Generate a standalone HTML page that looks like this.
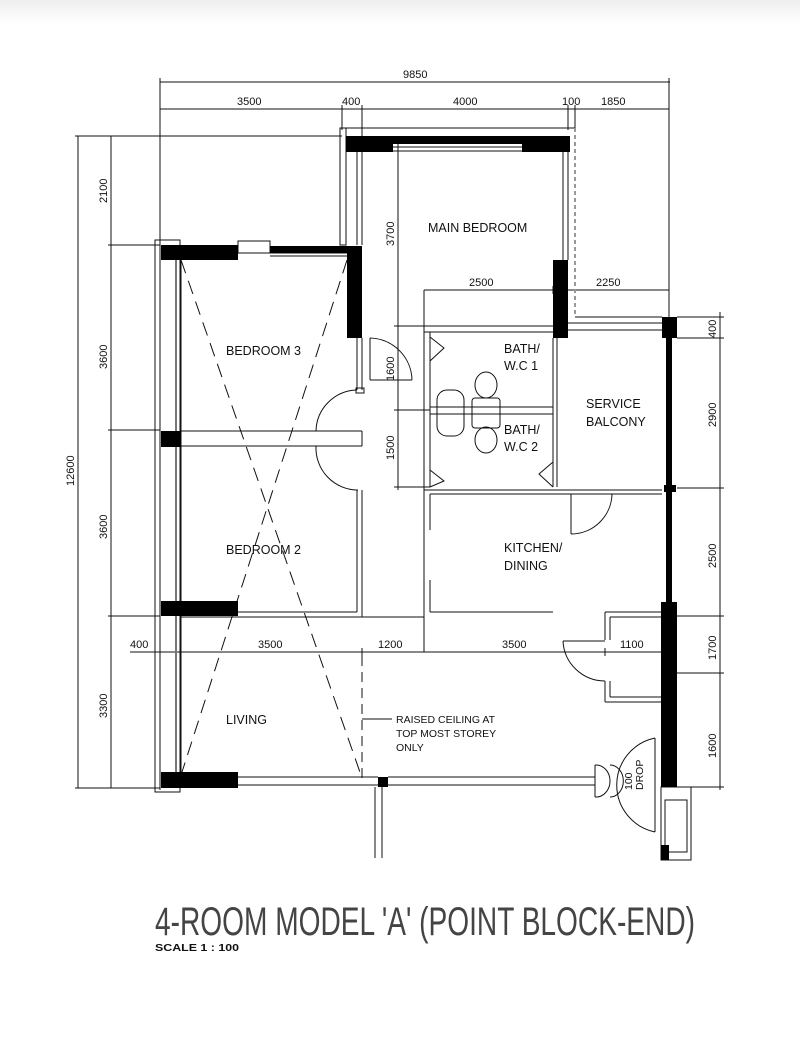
<!DOCTYPE html>
<html><head><meta charset="utf-8"><style>
html,body{margin:0;padding:0;background:#fff;}
svg{display:block;}
text{font-family:"Liberation Sans",sans-serif;fill:#111;}
</style></head><body>
<svg width="800" height="1053" viewBox="0 0 800 1053" xmlns="http://www.w3.org/2000/svg">
<defs><linearGradient id="g" x1="0" y1="0" x2="0" y2="1"><stop offset="0" stop-color="#eee"/><stop offset="1" stop-color="#fff"/></linearGradient></defs>
<rect width="800" height="1053" fill="#fff"/>
<rect width="800" height="24" fill="url(#g)"/>
<g stroke="#111" stroke-width="1" fill="none">
<line x1="160" y1="82" x2="670" y2="82"/>
<line x1="160" y1="109" x2="669" y2="109"/>
<line x1="160" y1="78" x2="160" y2="245"/>
<line x1="669" y1="78" x2="669" y2="317"/>
<line x1="342" y1="105" x2="342" y2="130"/>
<line x1="362" y1="105" x2="362" y2="140"/>
<line x1="568" y1="105" x2="568" y2="130"/>
<line x1="575" y1="105" x2="575" y2="130"/>
<line x1="78" y1="136" x2="78" y2="788"/>
<line x1="111" y1="136" x2="111" y2="788"/>
<line x1="75" y1="136" x2="342" y2="136"/>
<line x1="108" y1="245" x2="160" y2="245"/>
<line x1="108" y1="430" x2="160" y2="430"/>
<line x1="108" y1="616" x2="160" y2="616"/>
<line x1="75" y1="788" x2="160" y2="788"/>
<line x1="130" y1="652" x2="670" y2="652"/>
<line x1="424" y1="290" x2="669" y2="290"/>
<line x1="424" y1="290" x2="424" y2="652"/>
<line x1="553" y1="286" x2="553" y2="294"/>
<line x1="398" y1="142" x2="398" y2="490"/>
<line x1="394" y1="326" x2="430" y2="326"/>
<line x1="394" y1="410" x2="430" y2="410"/>
<line x1="394" y1="487" x2="430" y2="487"/>
<line x1="605" y1="648" x2="605" y2="656"/>
<line x1="362" y1="648" x2="362" y2="656"/>
<line x1="720" y1="312" x2="720" y2="790"/>
<line x1="677" y1="317" x2="724" y2="317"/>
<line x1="677" y1="338" x2="724" y2="338"/>
<line x1="677" y1="488" x2="724" y2="488"/>
<line x1="677" y1="616" x2="724" y2="616"/>
<line x1="677" y1="673" x2="724" y2="673"/>
<line x1="677" y1="787" x2="724" y2="787"/>
<rect x="340" y="128" width="6" height="117"/>
<line x1="340" y1="128" x2="575" y2="128"/>
<line x1="357" y1="152" x2="357" y2="245"/>
<line x1="362" y1="152" x2="362" y2="245"/>
<line x1="393" y1="147" x2="522" y2="147"/>
<line x1="393" y1="151" x2="522" y2="151"/>
<line x1="563" y1="152" x2="563" y2="260"/>
<line x1="568" y1="152" x2="568" y2="260"/>
<line x1="575" y1="128" x2="575" y2="317" stroke="#999" stroke-dasharray="4,3" stroke-width="2"/>
<line x1="575" y1="317" x2="662" y2="317"/>
<line x1="568" y1="323" x2="662" y2="323"/>
<line x1="568" y1="330" x2="662" y2="330"/>
<rect x="155" y="240" width="25" height="552"/>
<line x1="160" y1="243" x2="160" y2="790"/>
<line x1="176" y1="260" x2="176" y2="772" stroke="#777" stroke-width="2"/>
<line x1="181" y1="260" x2="181" y2="772"/>
<rect x="238" y="241" width="32" height="12"/>
<line x1="238" y1="253" x2="347" y2="253"/>
<line x1="270" y1="256" x2="347" y2="256"/>
<line x1="181" y1="431" x2="362" y2="431"/>
<line x1="181" y1="446" x2="362" y2="446"/>
<line x1="362" y1="431" x2="362" y2="446"/>
<line x1="357" y1="338" x2="357" y2="390"/>
<line x1="362" y1="338" x2="362" y2="390"/>
<rect x="356" y="388" width="8" height="5"/>
<path d="M357,390 A42,42 0 0 0 316,431"/>
<path d="M316,446 A42,42 0 0 0 358,490"/>
<line x1="357" y1="490" x2="357" y2="612"/>
<line x1="362" y1="490" x2="362" y2="617"/>
<path d="M370,338 A43,43 0 0 1 412,380"/>
<line x1="370" y1="338" x2="370" y2="380"/>
<line x1="370" y1="380" x2="412" y2="380"/>
<line x1="238" y1="612" x2="357" y2="612"/>
<line x1="181" y1="617" x2="424" y2="617"/>
<line x1="238" y1="777" x2="378" y2="777"/>
<line x1="238" y1="785" x2="378" y2="785"/>
<line x1="388" y1="777" x2="595" y2="777"/>
<line x1="388" y1="785" x2="595" y2="785"/>
<line x1="375" y1="787" x2="375" y2="858"/>
<line x1="382" y1="787" x2="382" y2="858"/>
<line x1="362" y1="656" x2="362" y2="778" stroke-dasharray="10,6"/>
<line x1="362" y1="719" x2="392" y2="719"/>
<line x1="181" y1="260" x2="362" y2="778" stroke-dasharray="14,8"/>
<line x1="347" y1="260" x2="182" y2="772" stroke-dasharray="14,8"/>
<line x1="424" y1="326" x2="553" y2="326"/>
<line x1="424" y1="332" x2="553" y2="332"/>
<line x1="424" y1="332" x2="424" y2="490"/>
<line x1="430" y1="332" x2="430" y2="487"/>
<line x1="430" y1="407" x2="553" y2="407"/>
<line x1="430" y1="414" x2="553" y2="414"/>
<line x1="553" y1="338" x2="553" y2="487"/>
<line x1="557" y1="338" x2="557" y2="487"/>
<path d="M430,337 L444,348 L430,361"/>
<path d="M430,470 L444,481 L430,487"/>
<path d="M553,462 L539,474 L553,487"/>
<ellipse cx="486" cy="385" rx="11" ry="13"/>
<ellipse cx="486" cy="440" rx="11" ry="13"/>
<rect x="472" y="398" width="28" height="30" rx="3"/>
<rect x="437" y="390" width="27" height="46" rx="10"/>
<line x1="424" y1="490" x2="662" y2="490"/>
<line x1="430" y1="494" x2="662" y2="494"/>
<line x1="424" y1="494" x2="424" y2="617"/>
<line x1="430" y1="494" x2="430" y2="530"/>
<line x1="430" y1="580" x2="430" y2="612"/>
<line x1="430" y1="612" x2="553" y2="612"/>
<line x1="571" y1="494" x2="571" y2="534"/>
<path d="M612,494 A41,41 0 0 1 571,534"/>
<line x1="605" y1="612" x2="662" y2="612"/>
<line x1="605" y1="612" x2="605" y2="640"/>
<line x1="610" y1="617" x2="662" y2="617"/>
<line x1="610" y1="617" x2="610" y2="640"/>
<line x1="563" y1="641" x2="605" y2="641"/>
<path d="M563,641 A42,42 0 0 0 605,681"/>
<line x1="605" y1="681" x2="605" y2="702"/>
<line x1="610" y1="681" x2="610" y2="697"/>
<line x1="610" y1="697" x2="662" y2="697"/>
<line x1="605" y1="702" x2="662" y2="702"/>
<path d="M655,738 A48,48 0 0 0 655,832"/>
<line x1="655" y1="738" x2="655" y2="832"/>
<path d="M610,765 A10,12 0 0 1 610,797 M595,765 A14,16 0 0 1 610,781 A14,16 0 0 1 595,797"/>
<line x1="595" y1="765" x2="595" y2="797"/>
<rect x="661" y="787" width="30" height="73"/>
<rect x="665" y="800" width="22" height="52"/>
</g>
<g fill="#000">
<rect x="346" y="136" width="224" height="8"/>
<rect x="346" y="136" width="47" height="16"/>
<rect x="522" y="136" width="48" height="16"/>
<rect x="553" y="260" width="15" height="78"/>
<rect x="161" y="245" width="77" height="15"/>
<rect x="270" y="246" width="92" height="7"/>
<rect x="347" y="246" width="15" height="92"/>
<rect x="161" y="431" width="20" height="16"/>
<rect x="161" y="601" width="77" height="15"/>
<rect x="161" y="772" width="77" height="16"/>
<rect x="378" y="777" width="10" height="10"/>
<rect x="662" y="317" width="15" height="21"/>
<rect x="666" y="338" width="6" height="265"/>
<rect x="661" y="602" width="16" height="185"/>
<rect x="664" y="485" width="12" height="7"/>
<rect x="661" y="845" width="8" height="15"/>
</g>
<g font-size="11">
<text x="403" y="78">9850</text>
<text x="237" y="105">3500</text>
<text x="342" y="105">400</text>
<text x="453" y="105">4000</text>
<text x="562" y="105">100</text>
<text x="601" y="105">1850</text>
<text x="469" y="286">2500</text>
<text x="596" y="286">2250</text>
<text x="130" y="648">400</text>
<text x="258" y="648">3500</text>
<text x="378" y="648">1200</text>
<text x="502" y="648">3500</text>
<text x="620" y="648">1100</text>
<text transform="translate(74,486) rotate(-90)">12600</text>
<text transform="translate(107,203) rotate(-90)">2100</text>
<text transform="translate(107,369) rotate(-90)">3600</text>
<text transform="translate(107,539) rotate(-90)">3600</text>
<text transform="translate(107,718) rotate(-90)">3300</text>
<text transform="translate(394,246) rotate(-90)">3700</text>
<text transform="translate(394,381) rotate(-90)">1600</text>
<text transform="translate(394,460) rotate(-90)">1500</text>
<text transform="translate(716,338) rotate(-90)">400</text>
<text transform="translate(716,427) rotate(-90)">2900</text>
<text transform="translate(716,568) rotate(-90)">2500</text>
<text transform="translate(716,660) rotate(-90)">1700</text>
<text transform="translate(716,758) rotate(-90)">1600</text>
</g>
<g font-size="12.5">
<text x="428" y="232">MAIN  BEDROOM</text>
<text x="226" y="355">BEDROOM  3</text>
<text x="226" y="554">BEDROOM  2</text>
<text x="226" y="724">LIVING</text>
<text x="504" y="353">BATH/</text>
<text x="504" y="370">W.C  1</text>
<text x="504" y="434">BATH/</text>
<text x="504" y="451">W.C  2</text>
<text x="586" y="408">SERVICE</text>
<text x="586" y="426">BALCONY</text>
<text x="504" y="552">KITCHEN/</text>
<text x="504" y="570">DINING</text>
</g>
<g font-size="10.5">
<text x="396" y="723">RAISED  CEILING  AT</text>
<text x="396" y="737">TOP  MOST  STOREY</text>
<text x="396" y="751">ONLY</text>
<text transform="translate(632,790) rotate(-90)">100</text>
<text transform="translate(643,790) rotate(-90)">DROP</text>
</g>
<text x="155" y="935" font-size="40" textLength="540" lengthAdjust="spacingAndGlyphs" style="fill:#444">4-ROOM MODEL 'A' (POINT BLOCK-END)</text>
<text x="155" y="951" font-size="10" font-weight="bold" textLength="84" lengthAdjust="spacingAndGlyphs">SCALE 1 : 100</text>
</svg>
</body></html>
